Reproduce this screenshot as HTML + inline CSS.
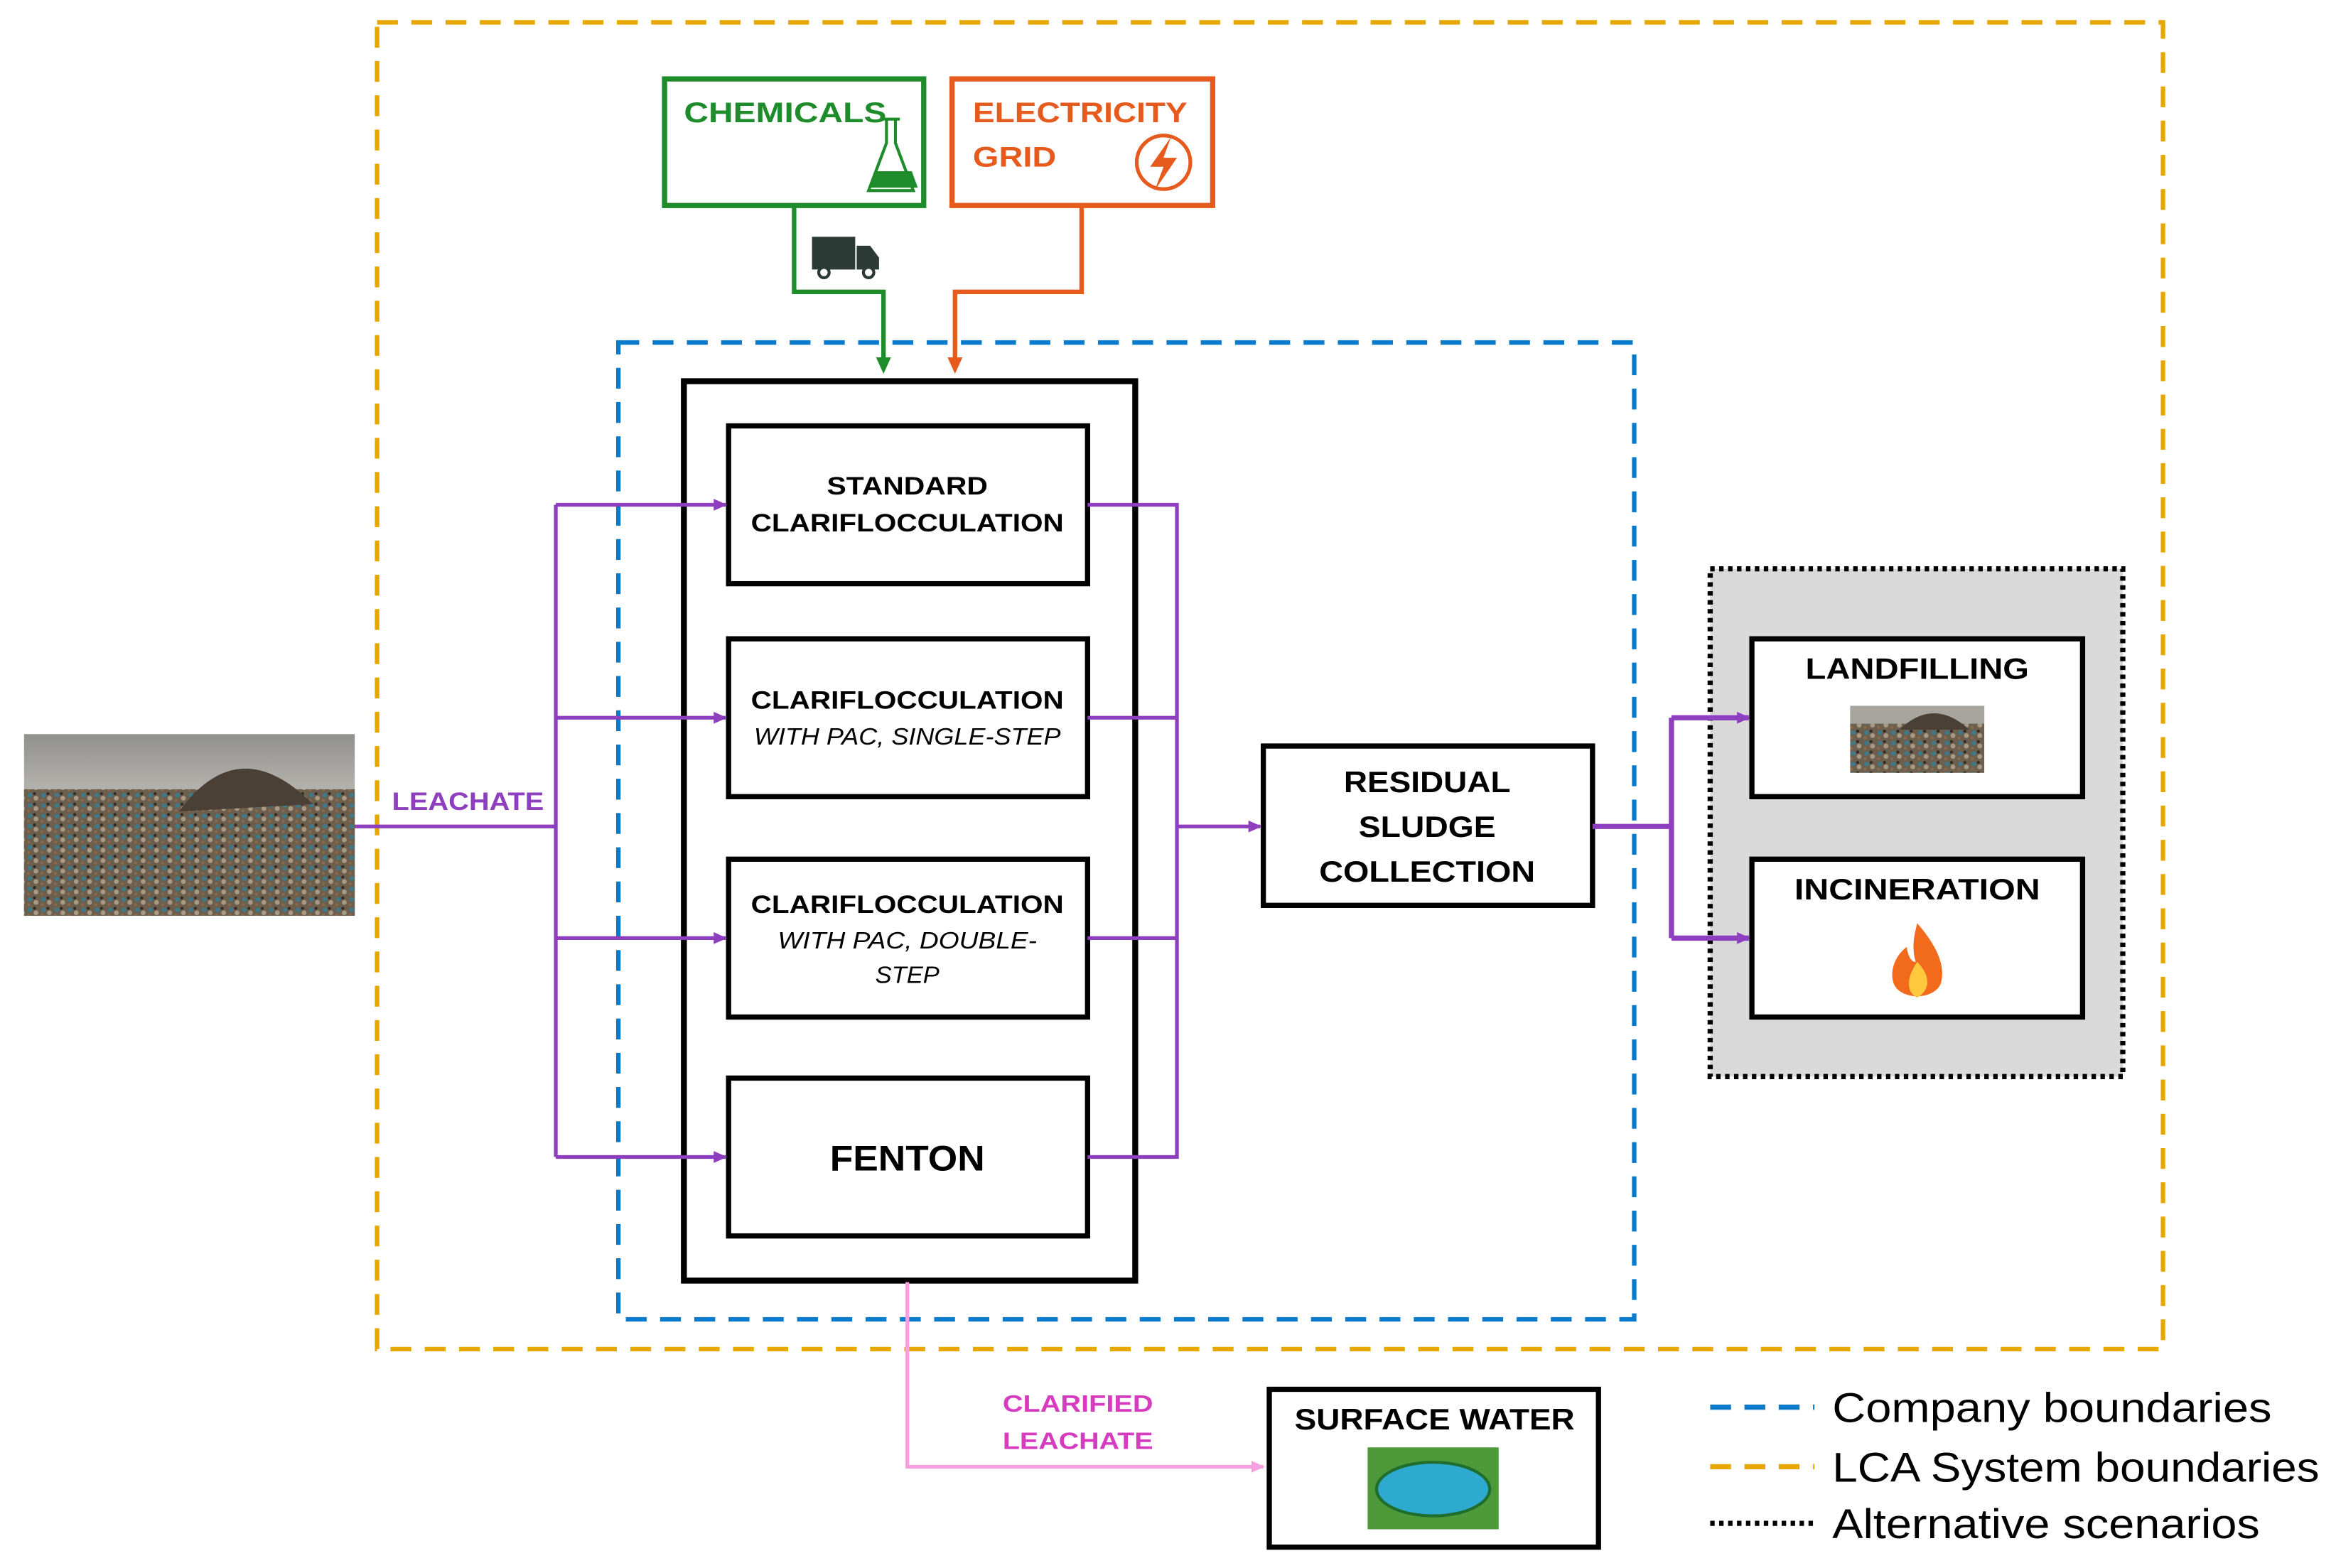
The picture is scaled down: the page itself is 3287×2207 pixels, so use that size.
<!DOCTYPE html>
<html><head><meta charset="utf-8"><style>
html,body{margin:0;padding:0;background:#fff;}
svg{display:block;}
text{font-family:"Liberation Sans",sans-serif;font-weight:bold;}
</style></head><body>
<svg width="3287" height="2207" viewBox="0 0 1568 1053" xmlns="http://www.w3.org/2000/svg">
<defs>
<marker id="ap" markerWidth="10" markerHeight="10" refX="8" refY="5" orient="auto" markerUnits="userSpaceOnUse"><path d="M0,1 L9,5 L0,9 z" fill="#8E3FBF"/></marker>
<marker id="pk" markerWidth="10" markerHeight="10" refX="8" refY="5" orient="auto" markerUnits="userSpaceOnUse"><path d="M0,1 L9,5 L0,9 z" fill="#F5A0E0"/></marker>
<linearGradient id="sky" x1="0" y1="0" x2="0" y2="1"><stop offset="0" stop-color="#8f8f8d"/><stop offset="0.3" stop-color="#b4b2ad"/><stop offset="0.36" stop-color="#5d5247"/><stop offset="1" stop-color="#6b5e4f"/></linearGradient>
<pattern id="junk" width="9" height="7" patternUnits="userSpaceOnUse"><rect width="9" height="7" fill="#6d5f4e"/><circle cx="2" cy="2" r="1.5" fill="#3b7b8e"/><circle cx="6" cy="4" r="1.6" fill="#a89a85"/><circle cx="5" cy="1" r="1" fill="#2f2a25"/><circle cx="1" cy="5.5" r="1" fill="#8a6a4a"/></pattern>
</defs>

<rect x="253" y="15" width="1199" height="891" fill="none" stroke="#E6A800" stroke-width="3" stroke-dasharray="14 9"/>
<rect x="415" y="230" width="682" height="656" fill="none" stroke="#0A7ACC" stroke-width="3" stroke-dasharray="14 9"/>

<rect x="446" y="53" width="174" height="85" fill="#fff" stroke="#1E8C2A" stroke-width="3.5"/>
<text x="459" y="82" font-size="19" fill="#1E8C2A" textLength="136" lengthAdjust="spacingAndGlyphs">CHEMICALS</text>
<g stroke="#1E8C2A" stroke-width="2" fill="none"><path d="M592,80 h12 M595,80 v16 l-12,32 h30 l-12,-32 v-16"/></g>
<path d="M587,115 h25 l4,11 h-33 z" fill="#1E8C2A"/>
<rect x="639" y="53" width="175" height="85" fill="#fff" stroke="#E65A1E" stroke-width="3.5"/>
<text x="653" y="82" font-size="19" fill="#E65A1E" textLength="144" lengthAdjust="spacingAndGlyphs">ELECTRICITY</text>
<text x="653" y="112" font-size="19" fill="#E65A1E" textLength="56" lengthAdjust="spacingAndGlyphs">GRID</text>
<circle cx="781" cy="109" r="18" fill="none" stroke="#E65A1E" stroke-width="2.5"/>
<path d="M786,92 L772,112 L781,112 L775,128 L790,106 L781,106 z" fill="#E65A1E"/>

<polyline points="533,138 533,196 593,196 593,242" fill="none" stroke="#1E8C2A" stroke-width="3"/>
<path d="M588,240 L598,240 L593,251 z" fill="#1E8C2A"/>
<rect x="545" y="159" width="29" height="22" fill="#2b3a35"/>
<path d="M575,165 h9 l6,8 v8 h-15 z" fill="#2b3a35"/>
<circle cx="553" cy="183" r="3.5" fill="#fff" stroke="#2b3a35" stroke-width="2"/>
<circle cx="583" cy="183" r="3.5" fill="#fff" stroke="#2b3a35" stroke-width="2"/>
<polyline points="726,138 726,196 641,196 641,242" fill="none" stroke="#E65A1E" stroke-width="3"/>
<path d="M636,240 L646,240 L641,251 z" fill="#E65A1E"/>

<rect x="459" y="256" width="303" height="604" fill="none" stroke="#000" stroke-width="4"/>
<g fill="#fff" stroke="#000" stroke-width="3.5">
<rect x="489" y="286" width="241" height="106"/>
<rect x="489" y="429" width="241" height="106"/>
<rect x="489" y="577" width="241" height="106"/>
<rect x="489" y="724" width="241" height="106"/>
</g>
<g font-size="17" text-anchor="middle" fill="#000">
<text x="609" y="332" textLength="108" lengthAdjust="spacingAndGlyphs">STANDARD</text>
<text x="609" y="357" textLength="210" lengthAdjust="spacingAndGlyphs">CLARIFLOCCULATION</text>
<text x="609" y="476" textLength="210" lengthAdjust="spacingAndGlyphs">CLARIFLOCCULATION</text>
<text x="609" y="500" font-style="italic" font-weight="normal" font-size="16" style="font-weight:normal" textLength="206" lengthAdjust="spacingAndGlyphs">WITH PAC, SINGLE-STEP</text>
<text x="609" y="613" textLength="210" lengthAdjust="spacingAndGlyphs">CLARIFLOCCULATION</text>
<text x="609" y="637" font-style="italic" font-size="16" style="font-weight:normal" textLength="174" lengthAdjust="spacingAndGlyphs">WITH PAC, DOUBLE-</text>
<text x="609" y="660" font-style="italic" font-size="16" style="font-weight:normal" textLength="43" lengthAdjust="spacingAndGlyphs">STEP</text>
<text x="609" y="786" font-size="24" textLength="104" lengthAdjust="spacingAndGlyphs">FENTON</text>
</g>

<rect x="16" y="493" width="222" height="122" fill="url(#sky)"/>
<rect x="16" y="530" width="222" height="85" fill="url(#junk)"/>
<path d="M120,545 Q160,490 210,540 Z" fill="#4a4035"/>

<g fill="none" stroke="#8E3FBF" stroke-width="2.5">
<line x1="238" y1="555" x2="373" y2="555"/>
<line x1="373" y1="339" x2="373" y2="777"/>
<line x1="373" y1="339" x2="487" y2="339" marker-end="url(#ap)"/>
<line x1="373" y1="482" x2="487" y2="482" marker-end="url(#ap)"/>
<line x1="373" y1="630" x2="487" y2="630" marker-end="url(#ap)"/>
<line x1="373" y1="777" x2="487" y2="777" marker-end="url(#ap)"/>
<polyline points="730,339 790,339 790,777 730,777"/>
<line x1="730" y1="482" x2="790" y2="482"/>
<line x1="730" y1="630" x2="790" y2="630"/>
<line x1="790" y1="555" x2="846" y2="555" marker-end="url(#ap)"/>
</g>
<text x="263" y="544" font-size="17" fill="#8E3FBF" textLength="102" lengthAdjust="spacingAndGlyphs">LEACHATE</text>

<rect x="848" y="501" width="221" height="107" fill="#fff" stroke="#000" stroke-width="3.5"/>
<g font-size="20" text-anchor="middle"><text x="958" y="532" textLength="112" lengthAdjust="spacingAndGlyphs">RESIDUAL</text><text x="958" y="562" textLength="92" lengthAdjust="spacingAndGlyphs">SLUDGE</text><text x="958" y="592" textLength="145" lengthAdjust="spacingAndGlyphs">COLLECTION</text></g>

<rect x="1148" y="382" width="277" height="341" fill="#D9D9D9" stroke="#000" stroke-width="3.5" stroke-dasharray="3 3"/>
<g fill="none" stroke="#8E3FBF" stroke-width="3.5">
<line x1="1069" y1="555" x2="1122" y2="555"/>
<polyline points="1122,482 1122,630"/>
<line x1="1122" y1="482" x2="1174" y2="482" marker-end="url(#ap)"/>
<line x1="1122" y1="630" x2="1174" y2="630" marker-end="url(#ap)"/>
</g>
<rect x="1176" y="429" width="222" height="106" fill="#fff" stroke="#000" stroke-width="3.5"/>
<rect x="1176" y="577" width="222" height="106" fill="#fff" stroke="#000" stroke-width="3.5"/>
<g font-size="20" text-anchor="middle"><text x="1287" y="456" textLength="150" lengthAdjust="spacingAndGlyphs">LANDFILLING</text><text x="1287" y="604" textLength="165" lengthAdjust="spacingAndGlyphs">INCINERATION</text></g>
<rect x="1242" y="474" width="90" height="45" fill="url(#junk)"/>
<rect x="1242" y="474" width="90" height="12" fill="#a8a59f"/>
<path d="M1275,490 Q1298,468 1322,490 Z" fill="#4a4035"/>
<path d="M1287,620 C1300,635 1306,648 1303,660 C1299,672 1275,672 1271,660 C1268,650 1274,640 1280,636 C1281,644 1284,646 1286,646 C1283,636 1285,628 1287,620 z" fill="#F26B1D"/>
<path d="M1287,646 C1295,654 1297,664 1287,670 C1279,666 1280,656 1287,646 z" fill="#FFC83D"/>

<polyline points="609,861 609,985 848,985" fill="none" stroke="#F5A0E0" stroke-width="2.5" marker-end="url(#pk)"/>
<text x="673" y="948" font-size="16" fill="#D63CC0" textLength="101" lengthAdjust="spacingAndGlyphs">CLARIFIED</text>
<text x="673" y="973" font-size="16" fill="#D63CC0" textLength="101" lengthAdjust="spacingAndGlyphs">LEACHATE</text>

<rect x="852" y="933" width="221" height="106" fill="#fff" stroke="#000" stroke-width="3.5"/>
<text x="963" y="960" font-size="20" text-anchor="middle" textLength="188" lengthAdjust="spacingAndGlyphs">SURFACE WATER</text>
<rect x="918" y="972" width="88" height="55" fill="#4e9a3a"/>
<ellipse cx="962" cy="1000" rx="38" ry="18" fill="#2eaad0" stroke="#1f6e2e" stroke-width="2"/>

<line x1="1148" y1="945" x2="1218" y2="945" stroke="#0A7ACC" stroke-width="3.5" stroke-dasharray="14 9"/>
<line x1="1148" y1="985" x2="1218" y2="985" stroke="#E6A800" stroke-width="3.5" stroke-dasharray="14 9"/>
<line x1="1148" y1="1023" x2="1218" y2="1023" stroke="#000" stroke-width="3.5" stroke-dasharray="3 3"/>
<g font-size="28" fill="#000">
<text x="1230" y="955" style="font-weight:normal" textLength="295" lengthAdjust="spacingAndGlyphs">Company boundaries</text>
<text x="1230" y="995" style="font-weight:normal" textLength="327" lengthAdjust="spacingAndGlyphs">LCA System boundaries</text>
<text x="1230" y="1033" style="font-weight:normal" textLength="287" lengthAdjust="spacingAndGlyphs">Alternative scenarios</text>
</g>
</svg>
</body></html>
